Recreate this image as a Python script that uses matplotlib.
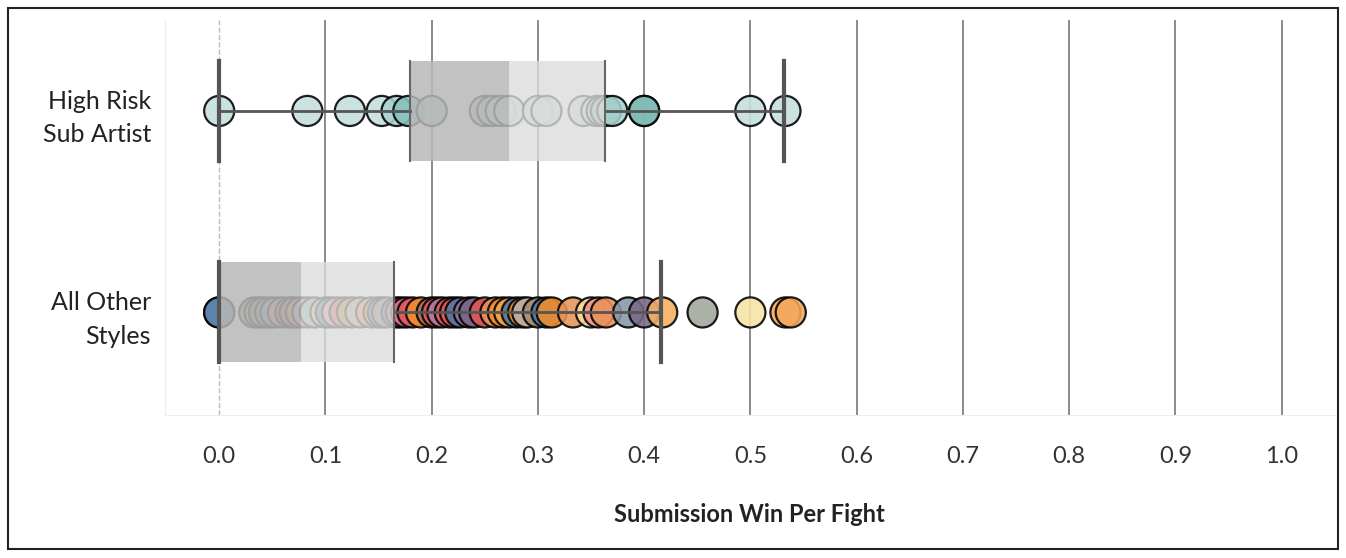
import numpy as np
import matplotlib.pyplot as plt
from matplotlib.patches import Rectangle

plt.rcParams['font.family'] = ['Lato', 'DejaVu Sans']

categories = ['High Risk\nSub Artist', 'All Other\nStyles']

# submission wins per fight
high_vals = [0.0, 0.083, 0.123, 0.153, 0.167, 0.178, 0.2, 0.25, 0.257, 0.265,
             0.273, 0.3, 0.308, 0.343, 0.355, 0.36, 0.364, 0.37, 0.4, 0.4,
             0.5, 0.533]
high_cols = ['#c4dfdc', '#c4dfdc', '#c4dfdc', '#c4dfdc', '#a8d2cd', '#86c2bc',
             '#a0cbc6', '#a0cbc6', '#a8d2cd', '#c4dfdc', '#c4dfdc', '#c4dfdc',
             '#c4dfdc', '#c4dfdc', '#c4dfdc', '#a8d2cd', '#86c2bc', '#a8d2cd',
             '#86c2bc', '#7fbcb5', '#c4dfdc', '#c4dfdc']

other_vals = [0.0, 0.0, 0.033, 0.038, 0.042, 0.048, 0.053, 0.06, 0.067, 0.071,
              0.077, 0.083, 0.09, 0.1, 0.105, 0.111, 0.118, 0.125, 0.133,
              0.143, 0.15, 0.154, 0.158, 0.167, 0.171, 0.176, 0.182, 0.19,
              0.2, 0.205, 0.21, 0.217, 0.222, 0.227, 0.235, 0.24, 0.25, 0.26,
              0.267, 0.273, 0.28, 0.286, 0.29, 0.3, 0.308, 0.313, 0.333,
              0.35, 0.357, 0.364, 0.385, 0.4, 0.417, 0.455, 0.5, 0.533, 0.538]
other_cols = ['#4e79a7', '#5d83ad', '#a09a94', '#b3a99c', '#6d8f66', '#8aa886',
              '#7d9ab8', '#e8935a', '#b07aa1', '#9c755f', '#e8935a', '#d4a6c8',
              '#86bcb6', '#f1ce63', '#4e79a7', '#ff9d9a', '#e15759', '#b6992d',
              '#bab0ac', '#e8935a', '#f28e2b', '#4e79a7', '#9d7660', '#4e79a7',
              '#e15759', '#d37295', '#e15759', '#f28e2b', '#9c755f', '#e15759',
              '#b07aa1', '#e15759', '#e15759', '#4e79a7', '#8f6f9f', '#7b6888',
              '#e15759', '#e8935a', '#f28e2b', '#f1a34a', '#4e79a7', '#f28e2b',
              '#bab0ac', '#a08d75', '#4e79a7', '#f28e2b', '#e8935a', '#f6e0a0',
              '#f0908c', '#e8935a', '#8796a8', '#7b6888', '#f4b060', '#9ea89c',
              '#f6e3a5', '#f4a85c', '#f4a85c']

# box stats: q1, median, q3, whisker low, whisker high
high_box = [0.18, 0.273, 0.363, 0.0, 0.532]
other_box = [0.0, 0.077, 0.165, 0.0, 0.416]

ypos = [0.77, 0.26]
box_h = 0.253

fig = plt.figure(figsize=(13.46, 5.58), dpi=100)
ax = fig.add_axes([0.1226, 0.256, 0.869, 0.708])
fig.patches.append(Rectangle((0.006, 0.016), 0.988, 0.97, transform=fig.transFigure,
                             fill=False, ec='#222222', lw=1.5))

for x in np.arange(0.1, 1.01, 0.1):
    ax.axvline(x, color='#777777', lw=1.2, zorder=0)
ax.axvline(0, color='#bbbbbb', lw=1, ls='--', zorder=0)

for y, vals, cols, box in [(ypos[0], high_vals, high_cols, high_box),
                           (ypos[1], other_vals, other_cols, other_box)]:
    ax.scatter(vals, [y] * len(vals), s=470, c=cols, edgecolors='black',
               linewidths=1.6, alpha=0.88, zorder=2)
    q1, med, q3, lo, hi = box
    ax.plot([lo, q1], [y, y], color='#555555', lw=2, zorder=4)
    ax.plot([q3, hi], [y, y], color='#555555', lw=2, zorder=4)
    for w in (lo, hi):
        ax.plot([w, w], [y - box_h / 2, y + box_h / 2], color='#555555', lw=3, zorder=5)
    ax.add_patch(Rectangle((q1, y - box_h / 2), med - q1, box_h, fc='#b8b8b8',
                           alpha=0.85, ec='none', zorder=3))
    ax.add_patch(Rectangle((med, y - box_h / 2), q3 - med, box_h, fc='#dcdcdc',
                           alpha=0.8, ec='none', zorder=3))
    ax.plot([q1, q1], [y - box_h / 2, y + box_h / 2], color='#666666', lw=1.5, zorder=4)
    ax.plot([q3, q3], [y - box_h / 2, y + box_h / 2], color='#666666', lw=1.5, zorder=4)

ax.set_xlim(-0.051, 1.05)
ax.set_ylim(0, 1)
ax.set_xticks(np.arange(0, 1.01, 0.1))
ax.set_xticklabels([f'{v:.1f}' for v in np.arange(0, 1.01, 0.1)], fontsize=17, color='#333333')
ax.set_yticks(ypos)
ax.set_yticklabels(categories, fontsize=18, color='#222222', linespacing=1.55)
ax.tick_params(length=0, pad=10)
ax.tick_params(axis='x', pad=22)
for s in ['top', 'right']:
    ax.spines[s].set_visible(False)
for s in ['left', 'bottom']:
    ax.spines[s].set_color('#eeeeee')
ax.set_xlabel('Submission Win Per Fight', fontsize=17, fontweight='bold',
              color='#222222', labelpad=26)

fig.savefig('out.png', dpi=100)
